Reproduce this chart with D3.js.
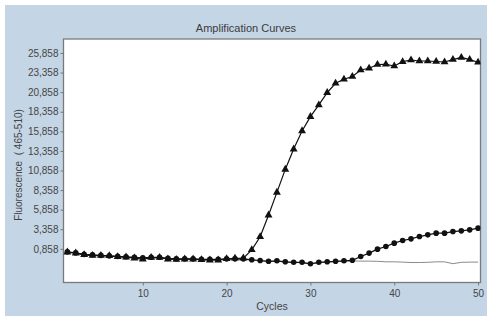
<!DOCTYPE html>
<html>
<head>
<meta charset="utf-8">
<script src="https://cdn.jsdelivr.net/npm/d3@7"></script>
<style>
  html, body { margin: 0; padding: 0; background: #ffffff; }
  svg { display: block; font-family: "Liberation Sans", Arial, sans-serif; }
</style>
</head>
<body>
<svg id="chart" width="490" height="316"></svg>
<script>
// ---- data ----
const cycles = d3.range(1, 51);
const sampleHigh = [437, 310, 93, 3, 3, -35, -162, -201, -328, -481,
  -252, -252, -456, -507, -456, -456, -545, -583, -583, -418,
  -354, -328, 730, 2389, 5156, 8065, 10998, 13588, 15909, 17733,
  19225, 20794, 21993, 22503, 22860, 23689, 23906, 24391, 24416, 24200,
  24748, 24965, 24837, 24837, 24774, 24710, 25016, 25284, 25016, 24672];
const sampleLow = [475, 348, 156, 93, 29, -35, -99, -162, -226, -290,
  -226, -226, -354, -418, -418, -418, -481, -481, -481, -418,
  -418, -418, -545, -634, -736, -673, -800, -864, -864, -1055,
  -864, -800, -736, -673, -609, -124, 310, 820, 1151, 1585,
  1917, 2134, 2427, 2644, 2861, 2861, 3065, 3154, 3281, 3498];
const negControl = [420, 290, 100, 40, -20, -80, -140, -200, -260, -320,
  -280, -280, -390, -450, -450, -450, -510, -520, -520, -470,
  -470, -480, -590, -680, -780, -720, -840, -900, -900, -1080,
  -900, -840, -780, -720, -680, -711, -711, -736, -800, -800,
  -838, -889, -889, -864, -800, -800, -1037, -864, -838, -838];
const yTickValues = [858, 3358, 5858, 8358, 10858, 13358, 15858, 18358, 20858, 23358, 25858];
const yTickLabels = ["0,858", "3,358", "5,858", "8,358", "10,858", "13,358", "15,858", "18,358", "20,858", "23,358", "25,858"];
const xTickValues = [10, 20, 30, 40, 50];
const titleText = "Amplification Curves";
const xTitle = "Cycles";
const yTitle = "Fluorescence\u00a0\u00a0( 465-510)";

// ---- layout ----
const svg = d3.select("#chart");
const plot = { left: 63.5, right: 480.5, top: 39, bottom: 282.5 };

svg.append("rect").attr("x", 5).attr("y", 5).attr("width", 482).attr("height", 311)
  .attr("fill", "#c4d5e6");

const x = d3.scaleLinear().domain([0.54, 50.29]).range([plot.left, plot.right]);
const y = d3.scaleLinear().domain([-3440, 27644]).range([plot.bottom, plot.top]);

svg.append("rect").attr("x", plot.left).attr("y", plot.top)
  .attr("width", plot.right - plot.left).attr("height", plot.bottom - plot.top)
  .attr("fill", "#ffffff").attr("stroke", "#7a7a7a").attr("stroke-width", 1.3);

// title
svg.append("text").attr("x", 246).attr("y", 32).attr("text-anchor", "middle")
  .attr("font-size", 11).attr("fill", "#3c3c3c").text(titleText);

// y axis
const yAxis = d3.axisLeft(y).tickValues(yTickValues)
  .tickFormat((d, i) => yTickLabels[i]).tickSize(3).tickPadding(2);
const gy = svg.append("g").attr("transform", `translate(${plot.left},0)`).call(yAxis);
gy.select(".domain").remove();
gy.selectAll(".tick line").attr("stroke", "#777");
gy.selectAll(".tick text").attr("font-size", 10).attr("fill", "#454545")
  .attr("font-family", "Liberation Sans, Arial, sans-serif");

// x axis
const xAxis = d3.axisBottom(x).tickValues(xTickValues).tickSize(3).tickPadding(4);
const gx = svg.append("g").attr("transform", `translate(0,${plot.bottom})`).call(xAxis);
gx.select(".domain").remove();
gx.selectAll(".tick line").attr("stroke", "#777");
gx.selectAll(".tick text").attr("font-size", 10).attr("fill", "#454545")
  .attr("font-family", "Liberation Sans, Arial, sans-serif");

svg.append("text").attr("x", (plot.left + plot.right) / 2).attr("y", 310)
  .attr("text-anchor", "middle").attr("font-size", 10.5).attr("fill", "#454545").text(xTitle);

svg.append("text").attr("transform", "translate(22,165) rotate(-90)")
  .attr("text-anchor", "middle").attr("font-size", 10).attr("fill", "#454545").text(yTitle);

// series
svg.append("defs").append("clipPath").attr("id", "clip")
  .append("rect").attr("x", plot.left).attr("y", plot.top)
  .attr("width", plot.right - plot.left).attr("height", plot.bottom - plot.top);

const g = svg.append("g").attr("clip-path", "url(#clip)");
const line = d3.line().x((d, i) => x(cycles[i])).y(d => y(d));

g.append("path").datum(negControl).attr("d", line)
  .attr("fill", "none").attr("stroke", "#8a8a8a").attr("stroke-width", 1);

g.append("path").datum(sampleLow).attr("d", line)
  .attr("fill", "none").attr("stroke", "#111").attr("stroke-width", 1.2);
g.append("path").datum(sampleHigh).attr("d", line)
  .attr("fill", "none").attr("stroke", "#111").attr("stroke-width", 1.2);

g.selectAll("circle.low").data(sampleLow).join("circle").attr("class", "low")
  .attr("cx", (d, i) => x(cycles[i])).attr("cy", d => y(d)).attr("r", 2.8)
  .attr("fill", "#111");

const tri = d3.symbol().type(d3.symbolTriangle).size(27);
g.selectAll("path.high").data(sampleHigh).join("path").attr("class", "high")
  .attr("d", tri)
  .attr("transform", (d, i) => `translate(${x(cycles[i])},${y(d)})`)
  .attr("fill", "#111");
</script>
</body>
</html>
